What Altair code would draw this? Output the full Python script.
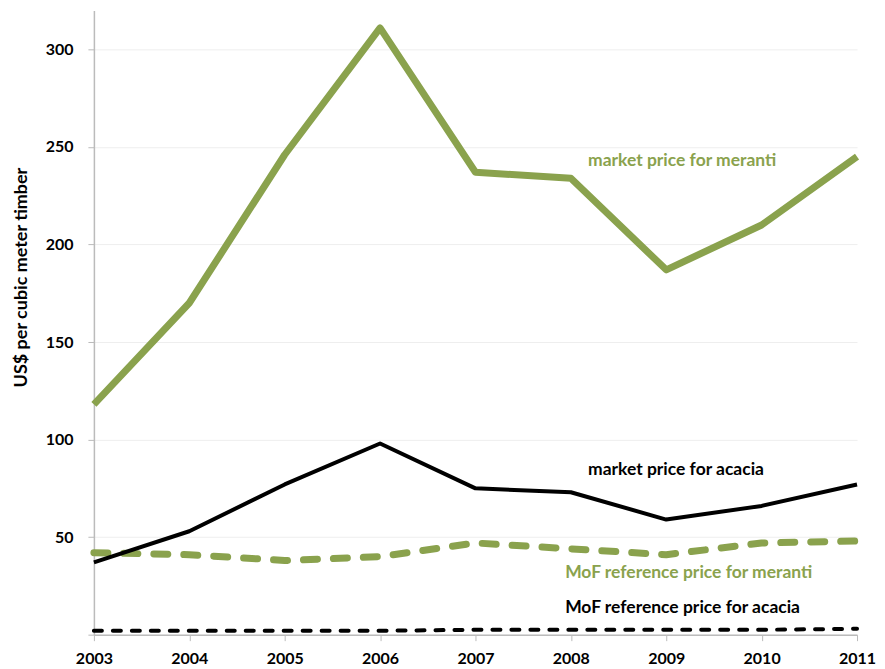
import altair as alt
import pandas as pd

years = [2003, 2004, 2005, 2006, 2007, 2008, 2009, 2010, 2011]
market_meranti = [118, 170, 246, 311, 237, 234, 187, 210, 245]
market_acacia = [37, 53, 77, 98, 75, 73, 59, 66, 77]
mof_meranti = [42, 41, 38, 40, 47, 44, 41, 47, 48]
mof_acacia = [2, 2, 2, 2, 2.5, 2.5, 2.5, 2.5, 3]

label_text = ["market price for meranti", "market price for acacia",
              "MoF reference price for meranti", "MoF reference price for acacia"]
label_x = [2008.18, 2008.18, 2007.94, 2007.94]
label_y = [243, 84.5, 31.8, 13.8]

GREEN = "#8AA24D"

series = {
    "market_meranti": market_meranti,
    "market_acacia": market_acacia,
    "mof_meranti": mof_meranti,
    "mof_acacia": mof_acacia,
}
rows = []
for name, vals in series.items():
    for y, v in zip(years, vals):
        rows.append({"year": y, "value": v, "series": name})
df = pd.DataFrame(rows)

labels = pd.DataFrame({"text": label_text, "x": label_x, "y": label_y,
                       "color": [GREEN, "black", GREEN, "black"]})

xenc = alt.X("year:Q", scale=alt.Scale(domain=[2003, 2011], nice=False),
             axis=alt.Axis(values=years, format="d", title=None, grid=False,
                           labelFontSize=16, labelFontWeight="bold", labelColor="black",
                           labelFont="Lato", labelPadding=10, tickSize=6,
                           domainColor="#bbbbbb", tickColor="#bbbbbb",
                           labelOverlap=False, labelBound=False, labelFlush=False))
yenc = alt.Y("value:Q", scale=alt.Scale(domain=[0, 320], nice=False),
             axis=alt.Axis(values=[0, 50, 100, 150, 200, 250, 300],
                           labelExpr="datum.value == 0 ? '' : datum.label",
                           title="US$ per cubic meter timber",
                           titleFontSize=18, titleFontWeight="bold", titleFont="Lato",
                           titleColor="black", titleX=-72, titleY=267,
                           titleAngle=270, titleAlign="center", titleBaseline="middle",
                           labelFontSize=16, labelFontWeight="bold", labelColor="black",
                           labelFont="Lato", labelPadding=15, tickSize=6,
                           domainColor="#bbbbbb", tickColor="#bbbbbb",
                           gridColor="#eeeeee", gridWidth=1))

base = alt.Chart(df)

def line(name, color, width, dash=None, cap="butt"):
    kw = dict(color=color, strokeWidth=width, strokeCap=cap, strokeJoin="round")
    if dash:
        kw["strokeDash"] = dash
    return base.transform_filter(alt.datum.series == name).mark_line(**kw).encode(x=xenc, y=yenc)

l1 = line("mof_acacia", "black", 4, [8, 11], "round")
l2 = line("mof_meranti", GREEN, 7, [14, 16], "round")
l3 = line("market_meranti", GREEN, 7)
l4 = line("market_acacia", "black", 4)

txt = alt.Chart(labels).mark_text(align="left", baseline="middle", fontSize=17.5,
                                   fontWeight="bold", font="Lato").encode(
    x="x:Q", y="y:Q", text="text:N", color=alt.Color("color:N", scale=None))

chart = alt.layer(l1, l2, l3, l4, txt).properties(
    width=764, height=625,
    autosize=alt.AutoSizeParams(type="none"),
    padding={"left": 86, "top": 2, "right": 20, "bottom": 34},
).configure_view(stroke=None).configure_axis(domainWidth=1.5)

chart.save("out.html", embed_options={"renderer": "svg", "actions": False})
